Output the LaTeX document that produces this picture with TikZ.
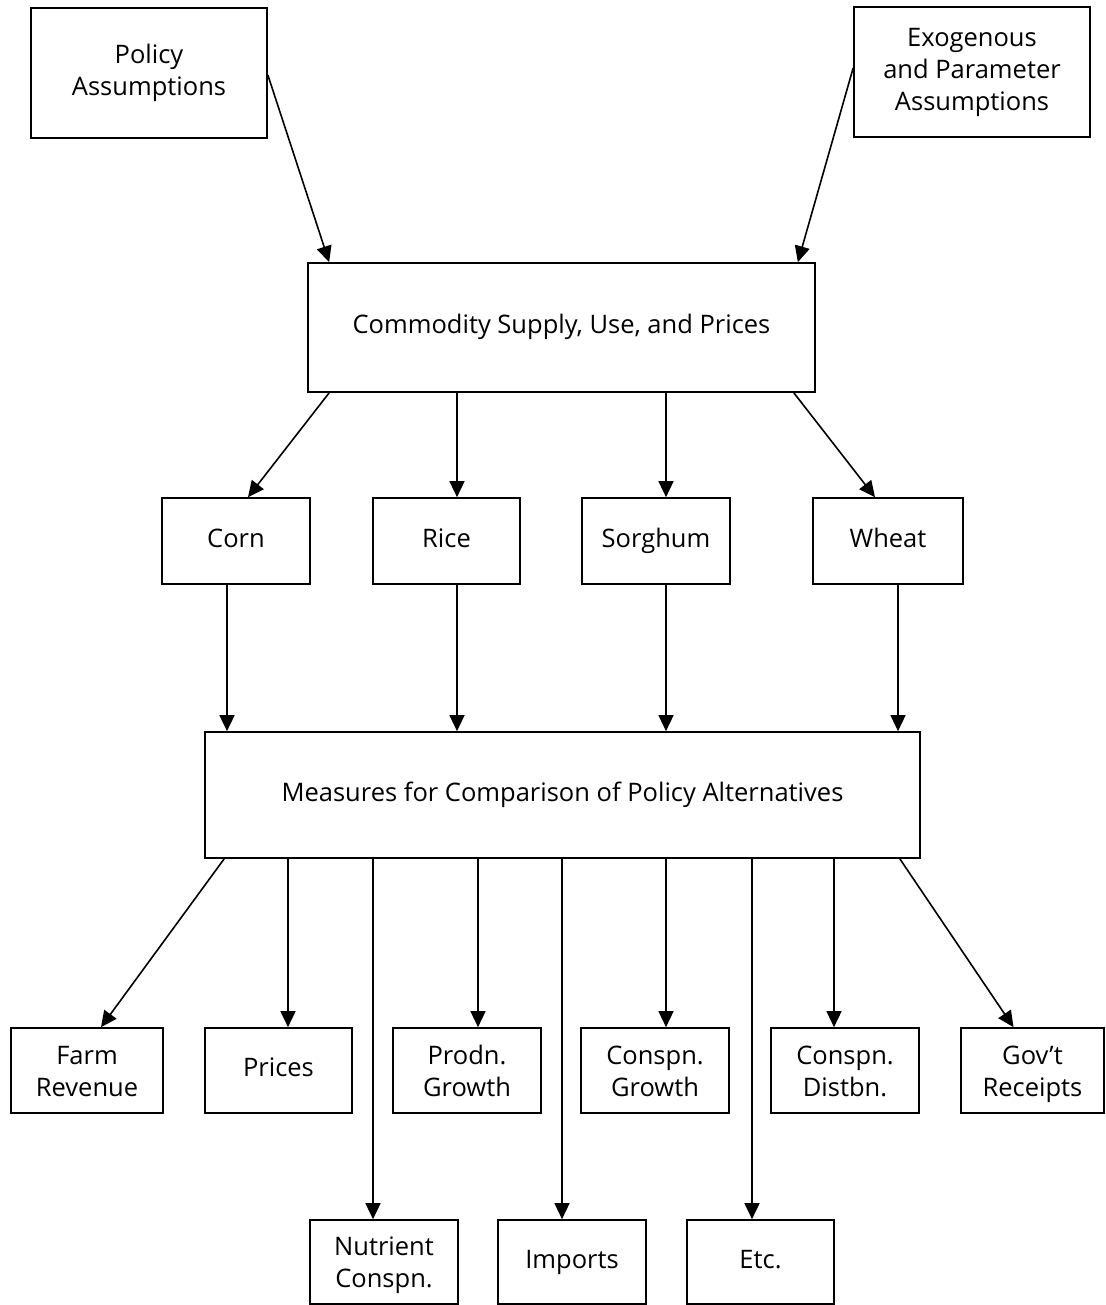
\documentclass[tikz,border=0pt]{standalone}
\usepackage{fontspec}
\setmainfont{Open Sans}
\usetikzlibrary{arrows.meta}
\newcommand\hstrut{\rule{0pt}{29.4pt}}
\begin{document}
\begin{tikzpicture}[x=1pt,y=-1pt,
  box/.style={draw, line width=1.7pt, align=center, inner sep=0pt,
    font=\fontsize{25.5}{32}\selectfont},
  arr/.style={line width=1.6pt, -{Triangle[length=16pt,width=15pt]}}]
\useasboundingbox (0,0) rectangle (1105,1305);
% top
\node[box, minimum width=236pt, minimum height=130pt] (pol) at (149,73) {\strut Policy\\\strut Assumptions};
\node[box, minimum width=236pt, minimum height=130pt] (exo) at (972,72) {\strut Exogenous\\\strut and Parameter\\\strut Assumptions};
\node[box, minimum width=507pt, minimum height=129pt] (com) at (561.5,327.5) {\strut Commodity Supply, Use, and Prices};
% commodities
\node[box, minimum width=148pt, minimum height=86pt] (corn) at (236,541) {\strut Corn};
\node[box, minimum width=147pt, minimum height=86pt] (rice) at (446.5,541) {\strut Rice};
\node[box, minimum width=148pt, minimum height=86pt] (sorg) at (656,541) {\strut Sorghum};
\node[box, minimum width=150pt, minimum height=86pt] (wheat) at (888,541) {\strut Wheat};
% measures
\node[box, minimum width=715pt, minimum height=126pt] (meas) at (562.5,795) {\strut Measures for Comparison of Policy Alternatives};
% outputs
\node[box, minimum width=152pt, minimum height=85pt] (farm) at (87,1070.5) {\hstrut Farm\\\strut Revenue};
\node[box, minimum width=147pt, minimum height=85pt] (prices) at (278.5,1070.5) {\strut Prices};
\node[box, minimum width=148pt, minimum height=85pt] (prodn) at (467,1070.5) {\hstrut Prodn.\\\strut Growth};
\node[box, minimum width=148pt, minimum height=85pt] (cgrow) at (655,1070.5) {\hstrut Conspn.\\\strut Growth};
\node[box, minimum width=148pt, minimum height=85pt] (cdist) at (845,1070.5) {\hstrut Conspn.\\\strut Distbn.};
\node[box, minimum width=143pt, minimum height=85pt] (gov) at (1032.5,1070.5) {\hstrut Gov’t\\\strut Receipts};
\node[box, minimum width=148pt, minimum height=84pt] (nut) at (384,1262) {\hstrut Nutrient\\\strut Conspn.};
\node[box, minimum width=148pt, minimum height=84pt] (imp) at (572,1262) {\strut Imports};
\node[box, minimum width=147pt, minimum height=84pt] (etc) at (760.5,1262) {\strut Etc.};
% connectors top
\draw[arr] ([yshift=-2pt]pol.east) -- ([xshift=22pt]com.north west);
\draw[arr] ([yshift=4pt]exo.west) -- ([xshift=-18pt]com.north east);
\draw[arr] ([xshift=22pt]com.south west) -- ([xshift=12pt]corn.north);
\draw[arr] ([xshift=10.5pt]rice.north |- com.south) -- ([xshift=10.5pt]rice.north);
\draw[arr] ([xshift=10pt]sorg.north |- com.south) -- ([xshift=10pt]sorg.north);
\draw[arr] ([xshift=-22pt]com.south east) -- ([xshift=-13pt]wheat.north);
% to measures
\draw[arr] ([xshift=-9pt]corn.south) -- ([xshift=-9pt]corn.south |- meas.north);
\draw[arr] ([xshift=10.5pt]rice.south) -- ([xshift=10.5pt]rice.south |- meas.north);
\draw[arr] ([xshift=10pt]sorg.south) -- ([xshift=10pt]sorg.south |- meas.north);
\draw[arr] ([xshift=10pt]wheat.south) -- ([xshift=10pt]wheat.south |- meas.north);
% from measures
\draw[arr] ([xshift=20pt]meas.south west) -- ([xshift=14pt]farm.north);
\draw[arr] ([xshift=9.5pt]prices.north |- meas.south) -- ([xshift=9.5pt]prices.north);
\draw[arr] ([xshift=-11pt]nut.north |- meas.south) -- ([xshift=-11pt]nut.north);
\draw[arr] ([xshift=11pt]prodn.north |- meas.south) -- ([xshift=11pt]prodn.north);
\draw[arr] ([xshift=-10pt]imp.north |- meas.south) -- ([xshift=-10pt]imp.north);
\draw[arr] ([xshift=11pt]cgrow.north |- meas.south) -- ([xshift=11pt]cgrow.north);
\draw[arr] ([xshift=-8.5pt]etc.north |- meas.south) -- ([xshift=-8.5pt]etc.north);
\draw[arr] ([xshift=-11pt]cdist.north |- meas.south) -- ([xshift=-11pt]cdist.north);
\draw[arr] ([xshift=-21pt]meas.south east) -- ([xshift=-19pt]gov.north);
\end{tikzpicture}
\end{document}
